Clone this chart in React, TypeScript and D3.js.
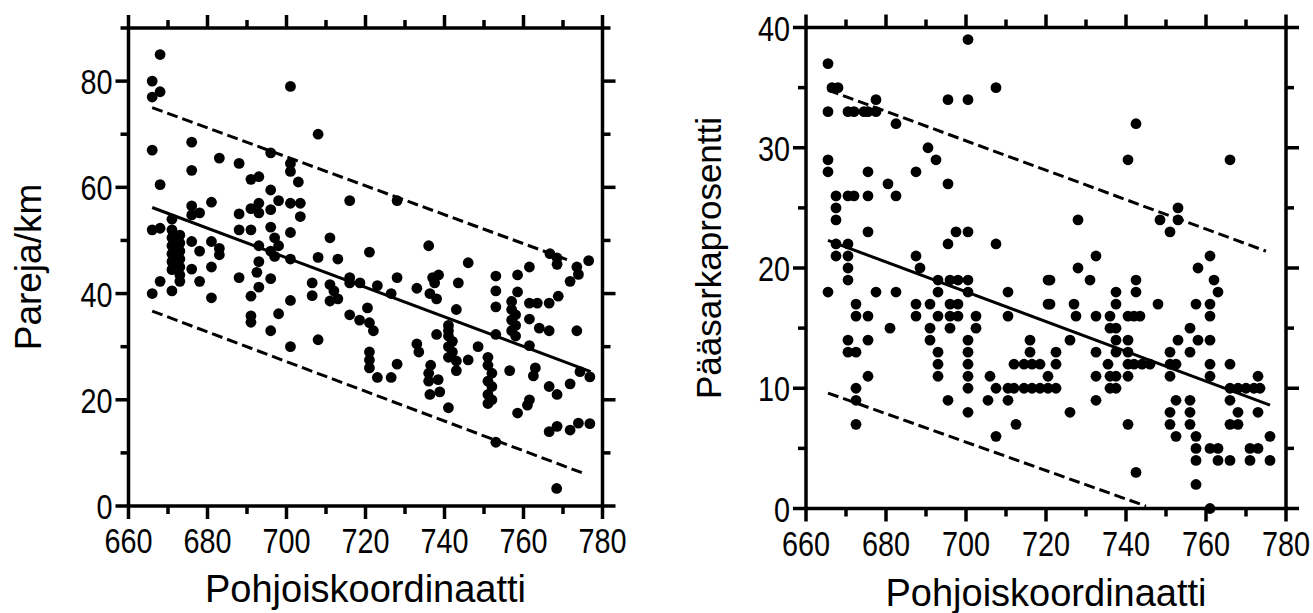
import React from 'react';
import * as d3 from 'd3';

const xTicksMajor = [660, 680, 700, 720, 740, 760, 780];
const xTicksMinor = [670, 690, 710, 730, 750, 770];
const leftYMajor = [0, 20, 40, 60, 80];
const leftYMinor = [10, 30, 50, 70, 90];
const rightYMajor = [0, 10, 20, 30, 40];
const rightYMinor = [5, 15, 25, 35];

const xTitle = 'Pohjoiskoordinaatti';
const leftYTitle = 'Pareja/km';
const rightYTitle = 'Pääsarkaprosentti';

const leftFitX = [666, 777];
const leftFitY = [56.2, 25.3];
const leftUpperX = [666, 771];
const leftUpperY = [75, 46.4];
const leftLowerX = [666, 775];
const leftLowerY = [36.7, 6.2];

const rightFitX = [665.5, 776];
const rightFitY = [22.3, 8.6];
const rightUpperX = [665.5, 775];
const rightUpperY = [34.8, 21.4];
const rightLowerX = [665.5, 745];
const rightLowerY = [9.6, 0.2];

const leftPoints: [number, number][] = [
  [668,85],[666,80],[666,77],[668,78],[701,79],[708,70],[666,67],[676,68.5],[683,65.5],[688,64.5],[676,63.2],[668,60.5],[691,61.5],[693,62],[696,66.5],[701,64.5],[701,63],[703,61],[696,59.5],[698,57.5],[701,57],[703.5,57],[703.5,54.5],[716,57.5],[728,57.5],[681,57.2],[676,56.5],[676,54.8],[678,55.2],[688,55],[691,56],[693,57],[693,55.2],[696,55.8],[666,52],[668,52.3],[671,54],
  [671,52],[671,50.5],[671,49],[671,47.5],[671,46],[671,44.5],[673,51],[673,49.5],[673,48],[673,46.5],[673,45],[673,43.5],
  [676,49.8],[678,48],[681,49.8],[683,48.5],[683,47.3],[681,45],[676,44.6],[678,42.3],[668,42.3],[671,40.5],[666,40],[673,42.3],[681,39.2],[688,52],[691,52],[693,49],[693,46],[692.5,44],[696,52.5],[697,50.5],[698,49],[696,48],[697,47],[701,51.5],[701,46.5],[688,43],[691,39.5],[693,41.2],[696,42.8],[691,35.8],[691,34.6],[696,33],[698,36.2],[701,38.7],[701,30],[706.5,42],[706.5,39.6],[708,46.8],[708,31.3],[711,50.5],[713,46.5],[711,41.7],[711,38.6],[713,39],[712,40.5],[716,43],[716,42],[716,36],[718.5,35],[720.5,37.3],[721,47.8],[721,34.5],[722,33],[723,41.5],[718.6,42],[726.5,40],[728,43],[721,29],[721,27.5],[721,26],[723,24.2],[726.5,24.2],[728,26.7],
  [733,41],[733,30.5],[733.5,29],[736,49],[737,43],[738.5,43.5],[737.5,42],[736.3,40],[738,39],[736.5,26.5],[736,25],[736,23.5],[736.3,21],[738.4,23.8],[738.8,21.5],[738,32.3],[741,18.5],[741,34],[741,33],[741,32],[742,31],[741,30],[742,29],[741,28],[743,27.3],[743.5,42],[743,37],[743,25.5],[746,45.8],[746,27.5],[748.5,30],[751,28],[751,26.5],[752,25],[751,23.5],[752,22.5],[751,21],[752,20],[751,19.3],[753,43.3],[753,40.5],[753,37.5],[753,32.3],[753,12],[756.5,25.5],[757,38.5],[757,37],[758,36],[757,35],[758,34],[757,33],[758,32],[758.5,43.5],[758.5,40.3],[758.5,17.5],[761.5,45],[761.5,38.2],[761.5,35.2],[761.5,30.2],[761.5,20],[761,19],[763.5,38.2],[764,33.5],[763,26],[762.5,24.5],[766.5,38.2],[766.5,33],[766.5,22.5],[768.5,21],[766.5,14],[768.5,15],[768.5,46.7],[768.5,45.5],[766.7,47.5],[768.8,39.5],[768.4,3.3],[771.8,42.3],[771.8,23],[771.8,14.3],[773.5,45],[773.9,43.6],[773.5,33],[774.3,25.3],[773.9,15.6],[776.5,46.2],[776.8,24.3],[776.8,15.5]
];

const rightPoints: [number, number][] = [
  [700.5,39],[665.5,37],[666.5,35],[668,35],[707.5,35],[695.5,34],[700.5,34],[677.5,34],[665.5,33],[670.5,33],[672,33],[674.5,33],[675.5,33],[677.5,33],[682.5,32],[690.5,30],[692.5,29],[665.5,29],[665.5,28],[675.5,28],[687.5,28],[680.5,27],[695.5,27],[682.5,26],[667.5,26],[670.5,26],[672,26],[675.5,26],[667.5,25],[667.5,24],[675.5,23],[697.5,23],[700.5,23],[695.5,22],[707.5,22],[667.5,22],[670.5,22],[667.5,21],[670.5,21],[687.5,21],[670.5,20],[670.5,19],[688.5,20],
  [665.5,18],[677.5,18],[682.5,18],[693,19],[696,19],[698,19],[700.5,19],[693,18],[700.5,18],[710.5,18],[720.5,19],[672.5,17],[672.5,16],[675.5,16],[687.5,17],[691,17],[687.5,16],[693,16],[696,17],[698,17],[696,16],[698,16],[702.5,16],[702.5,15],[710.5,16],[720.5,17],[681,15],[691,15],[691,14],[696,15],[670.5,14],[670.5,13],[672.5,13],[675.5,14],[693,13],[693,12],[693,11],[700.5,14],[700.5,13],[700.5,12],[700.5,11],[700.5,10],[675.5,11],[672.5,10],[672.5,9],[672.5,7],[695.5,9],[700.5,8],[706,11],[707.5,10],[705.5,9],[710.5,9],[712.5,7],[707.5,6],[716,14],[716,13],[712,12],[714.5,12],[716.5,12],[718.5,12],[710.5,10],[712,10],[714.5,10],[716.5,10],[718.5,10],[720.5,10],[722.5,10],[720.5,11],
  [742.5,32],[740.5,29],[766,29],[728,24],[748.5,24],[751,23],[753,25],[753,24],[732.5,21],[761,21],[728,20],[758,20],[721,19],[731,19],[742.5,19],[742.5,18],[737.5,18],[737.5,17],[762,19],[763,18],[721,17],[727,17],[727.5,16],[732.5,16],[736,16],[740.5,16],[742,16],[743.5,16],[748,17],[757.5,17],[761,17],[761,16],[736,15],[737.5,15],[756,15],[726,14],[737.5,14],[740.5,14],[753,14],[758,14],[761,14],[732.5,13],[737.5,13],[740.5,13],[751,13],[756,13],[722.5,13],[722.5,12],[740.5,12],[742,12],[744,12],[746,12],[751,12],[752.5,12],[761,12],[766,12],[735.5,12],[732.5,11],[736,11],[737.5,11],[740.5,11],[751,11],[761,11],[773,11],[736,10],[737.5,10],[766,10],[768,10],[770,10],[772,10],[773.5,10],[766,9],[732.5,9],[752.5,9],[756,9],[768,8],[773,8],[726,8],[751,8],[756,8],[740.5,7],[751,7],[756,7],[766,7],[768,7],[752.5,6],[757.5,6],[776,6],[757.5,5],[761,5],[763,5],[771,5],[773,5],[757.5,4],[763,4],[766,4],[771,4],[776,4],[742.5,3],[757.5,2],[761,0]
];

const FONT = '"Liberation Sans", Arial, sans-serif';

type PanelProps = {
  x0: number; x1: number; yTop: number; yBottom: number;
  yMax: number; yMajor: number[]; yMinor: number[];
  points: [number, number][];
  fit: [number[], number[]]; upper: [number[], number[]]; lower: [number[], number[]];
  yTitle: string; yTitleX: number; yTitleY: number; yTitleSize: number;
  xLabelBase: number; xTitleBase: number;
};

function Panel(p: PanelProps) {
  const x = d3.scaleLinear().domain([660, 780]).range([p.x0, p.x1]);
  const y = d3.scaleLinear().domain([0, p.yMax]).range([p.yBottom, p.yTop]);
  const line = d3.line<[number, number]>().x(d => x(d[0])).y(d => y(d[1]));
  const seg = (s: [number[], number[]]) => line(s[0].map((v, i) => [v, s[1][i]] as [number, number])) || '';
  const majL = 13, minL = 8;
  const sw = 3.5;
  return (
    <g>
      <rect x={p.x0} y={p.yTop} width={p.x1 - p.x0} height={p.yBottom - p.yTop} fill="none" stroke="#000" strokeWidth={sw} />
      {xTicksMajor.map(t => (
        <g key={'xm' + t}>
          <line x1={x(t)} x2={x(t)} y1={p.yBottom} y2={p.yBottom + majL} stroke="#000" strokeWidth={sw} />
          <line x1={x(t)} x2={x(t)} y1={p.yTop} y2={p.yTop - majL} stroke="#000" strokeWidth={sw} />
          <text transform={`translate(${x(t)},${p.xLabelBase}) scale(0.8,1)`} textAnchor="middle" fontFamily={FONT} fontSize={36} fill="#000">{t}</text>
        </g>
      ))}
      {xTicksMinor.map(t => (
        <g key={'xn' + t}>
          <line x1={x(t)} x2={x(t)} y1={p.yBottom} y2={p.yBottom + minL} stroke="#000" strokeWidth={sw} />
          <line x1={x(t)} x2={x(t)} y1={p.yTop} y2={p.yTop - minL} stroke="#000" strokeWidth={sw} />
        </g>
      ))}
      {p.yMajor.map(t => (
        <g key={'ym' + t}>
          <line x1={p.x0} x2={p.x0 - majL} y1={y(t)} y2={y(t)} stroke="#000" strokeWidth={sw} />
          <line x1={p.x1} x2={p.x1 + majL} y1={y(t)} y2={y(t)} stroke="#000" strokeWidth={sw} />
          <text transform={`translate(${p.x0 - majL - 3},${y(t) + 13}) scale(0.8,1)`} textAnchor="end" fontFamily={FONT} fontSize={36} fill="#000">{t}</text>
        </g>
      ))}
      {p.yMinor.map(t => (
        <g key={'yn' + t}>
          <line x1={p.x0} x2={p.x0 - minL} y1={y(t)} y2={y(t)} stroke="#000" strokeWidth={sw} />
          <line x1={p.x1} x2={p.x1 + minL} y1={y(t)} y2={y(t)} stroke="#000" strokeWidth={sw} />
        </g>
      ))}
      <path d={seg(p.fit)} fill="none" stroke="#000" strokeWidth={3} />
      <path d={seg(p.upper)} fill="none" stroke="#000" strokeWidth={3} strokeDasharray="11 5" />
      <path d={seg(p.lower)} fill="none" stroke="#000" strokeWidth={3} strokeDasharray="11 5" />
      {p.points.map((d, i) => (
        <circle key={i} cx={x(d[0])} cy={y(d[1])} r={5.4} fill="#000" />
      ))}
      <text x={(p.x0 + p.x1) / 2} y={p.xTitleBase} textAnchor="middle" fontFamily={FONT} fontSize={38} fill="#000">{xTitle}</text>
      <text transform={`translate(${p.yTitleX},${p.yTitleY}) rotate(-90)`} textAnchor="middle" fontFamily={FONT} fontSize={p.yTitleSize} fill="#000">{p.yTitle}</text>
    </g>
  );
}

export default function App() {
  return (
    <svg width={1313} height={613} style={{ position: 'absolute', left: 0, top: 0, background: '#fff' }}>
      <rect x={0} y={0} width={1313} height={613} fill="#fff" />
      <Panel x0={128.5} x1={602.5} yTop={28} yBottom={506} yMax={90} yMajor={leftYMajor} yMinor={leftYMinor}
        points={leftPoints} fit={[leftFitX, leftFitY]} upper={[leftUpperX, leftUpperY]} lower={[leftLowerX, leftLowerY]}
        yTitle={leftYTitle} yTitleX={41} yTitleY={267} yTitleSize={37} xLabelBase={553} xTitleBase={602} />
      <Panel x0={806} x1={1286} yTop={27.5} yBottom={508.5} yMax={40} yMajor={rightYMajor} yMinor={rightYMinor}
        points={rightPoints} fit={[rightFitX, rightFitY]} upper={[rightUpperX, rightUpperY]} lower={[rightLowerX, rightLowerY]}
        yTitle={rightYTitle} yTitleX={721} yTitleY={258} yTitleSize={35} xLabelBase={556} xTitleBase={606} />
    </svg>
  );
}
